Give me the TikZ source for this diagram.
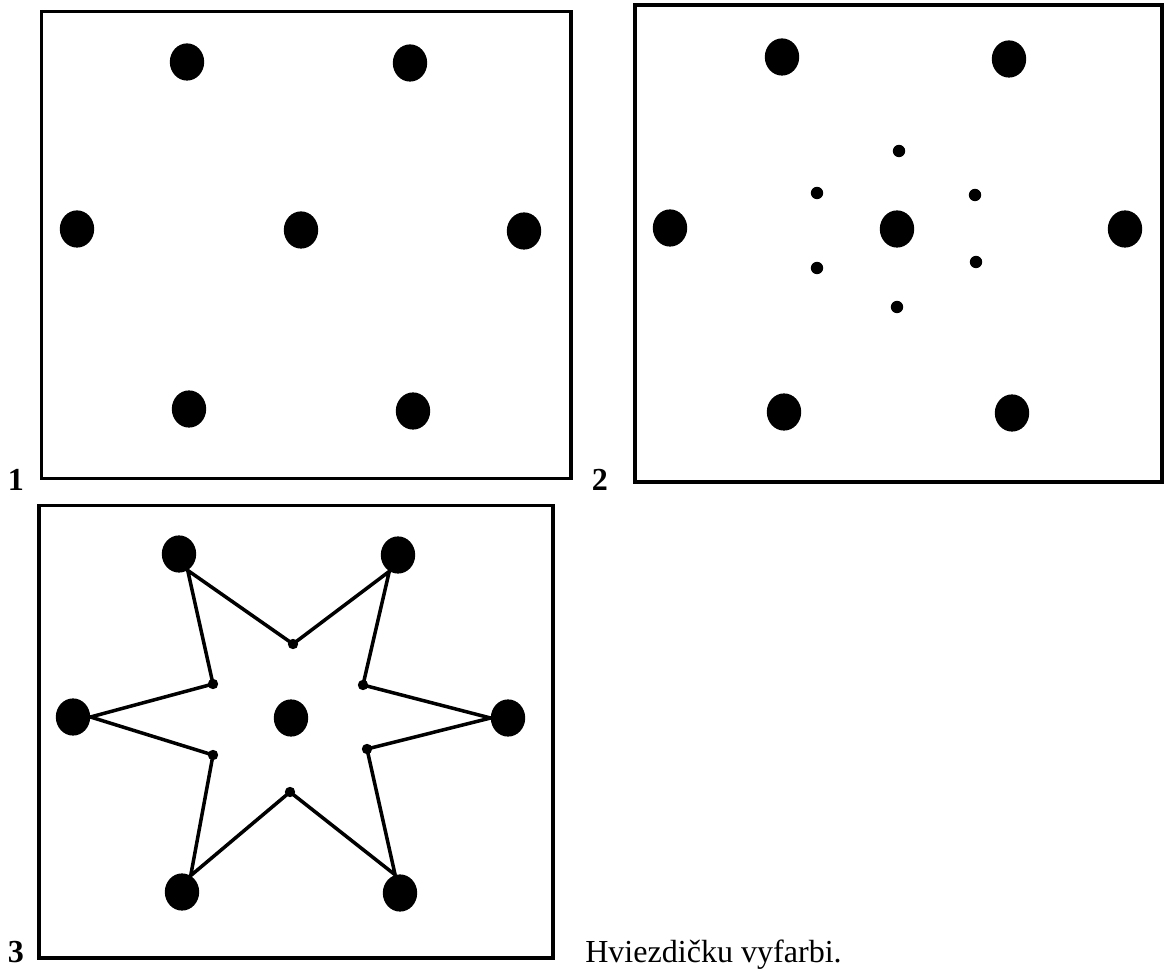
\documentclass[tikz,border=0pt]{standalone}
\usepackage{fontspec}
\setmainfont{Liberation Serif}
\usetikzlibrary{shapes.geometric}

\begin{document}
\begin{tikzpicture}[x=0.025cm, y=-0.025cm,
  bigdot/.style={ellipse, fill=black, inner sep=0pt, minimum width=0.86cm, minimum height=0.93cm},
  smalldot/.style={circle, fill=black, inner sep=0pt, minimum size=0.31cm},
  tinydot/.style={circle, fill=black, inner sep=0pt, minimum size=0.26cm},
  frame/.style={draw=black, line width=2.8pt},
  starline/.style={draw=black, line width=2.5pt, line join=round},
  numlbl/.style={font=\fontsize{22.8}{27}\selectfont\bfseries, anchor=base, inner sep=0pt},
  tasklbl/.style={font=\fontsize{22.8}{27}\selectfont, anchor=base west, inner sep=0pt}]
  \useasboundingbox (0,0) rectangle (1165,970);

  % Panel 1 -- seven dots
  \draw[frame] (41.5,11.5) rectangle (571,478.5);
  \node[numlbl] (lbl1) at (16,491) {1};
  \node[bigdot] (a1) at (187,62) {};
  \node[bigdot] (a2) at (410,63) {};
  \node[bigdot] (a3) at (77,229) {};
  \node[bigdot] (a4) at (301,230) {};
  \node[bigdot] (a5) at (524,231) {};
  \node[bigdot] (a6) at (189,409) {};
  \node[bigdot] (a7) at (413,411) {};

  % Panel 2 -- dots with the inner points
  \draw[frame] (635,5) rectangle (1162,482);
  \node[numlbl] (lbl2) at (600,491) {2};
  \node[bigdot] (b1) at (782,57) {};
  \node[bigdot] (b2) at (1009,59) {};
  \node[bigdot] (b3) at (670,228) {};
  \node[bigdot] (b4) at (897,229) {};
  \node[bigdot] (b5) at (1125,229) {};
  \node[bigdot] (b6) at (784,412) {};
  \node[bigdot] (b7) at (1012,413) {};
  \node[smalldot] (c1) at (899,151) {};
  \node[smalldot] (c2) at (817,193) {};
  \node[smalldot] (c3) at (975,195) {};
  \node[smalldot] (c4) at (817,268) {};
  \node[smalldot] (c5) at (976,262) {};
  \node[smalldot] (c6) at (897,307) {};

  % Panel 3 -- the star
  \draw[frame] (39,505.5) rectangle (553,958);
  \node[numlbl] (lbl3) at (16,962) {3};
  \node[bigdot] (tl) at (179,554) {};
  \node[bigdot] (tr) at (398,555) {};
  \node[bigdot] (lt) at (73,717) {};
  \node[bigdot] (mid) at (291,718) {};
  \node[bigdot] (rt) at (508,718) {};
  \node[bigdot] (bl) at (182,892) {};
  \node[bigdot] (br) at (400,893) {};
  \node[tinydot] (s1) at (293,644) {};
  \node[tinydot] (s2) at (363,685) {};
  \node[tinydot] (s3) at (367,749) {};
  \node[tinydot] (s4) at (290,792) {};
  \node[tinydot] (s5) at (213,755) {};
  \node[tinydot] (s6) at (213,684) {};
  \draw[starline] (tl.-62) -- (s1.center) -- (tr.-118) -- (s2.center) -- (rt.180)
    -- (s3.center) -- (br.105) -- (s4.center) -- (bl.62) -- (s5.center)
    -- (lt.0) -- (s6.center) -- cycle;

  % Task text
  \node[tasklbl] (task) at (585,962) {Hviezdičku vyfarbi.};
\end{tikzpicture}
\end{document}
